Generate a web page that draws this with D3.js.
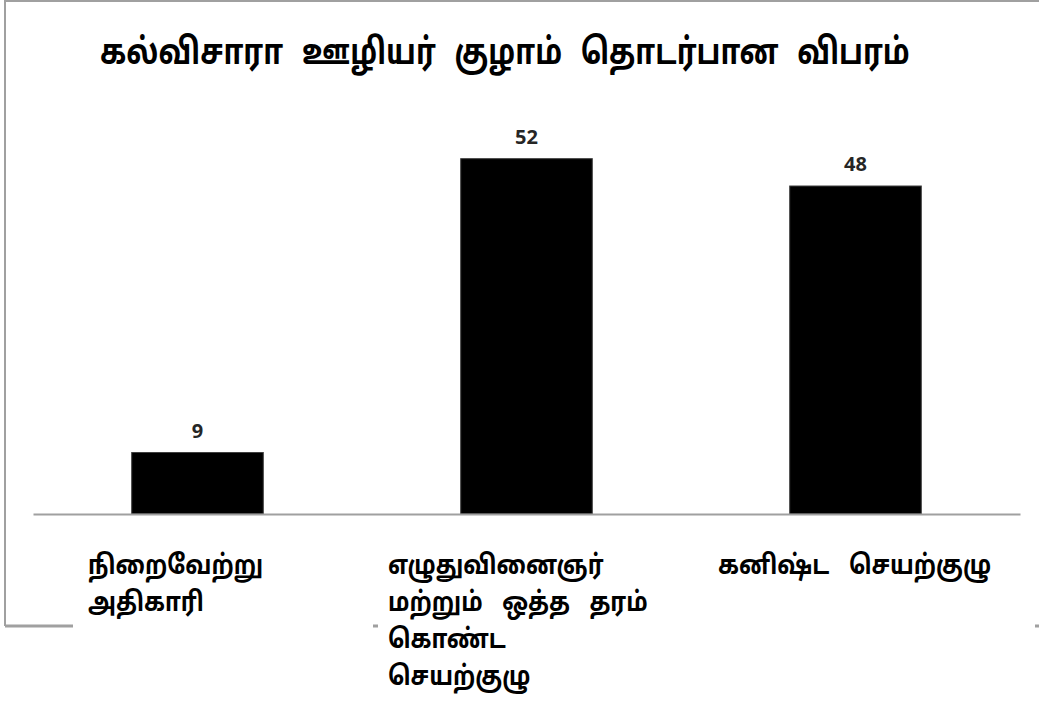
<!DOCTYPE html>
<meta charset="utf-8">
<script src="https://d3js.org/d3.v7.min.js"></script>
<style>
  body { margin: 0; background: #fff; }
</style>
<div id="chart"></div>
<script>
  // chart data
  var titleText = "கல்விசாரா ஊழியர் குழாம் தொடர்பான விபரம்";
  var categories = ["நிறைவேற்று அதிகாரி", "எழுதுவினைஞர் மற்றும் ஒத்த தரம் கொண்ட செயற்குழு", "கனிஷ்ட செயற்குழு"];
  var values = [9, 52, 48];
  // category label lines (as wrapped in the original)
  var labelLines = [
    ["நிறைவேற்று", "அதிகாரி"],
    ["எழுதுவினைஞர்", "மற்றும் ஒத்த தரம்", "கொண்ட", "செயற்குழு"],
    ["கனிஷ்ட செயற்குழு"]
  ];

  var W = 1039, H = 715;
  var tamilFont = "'Noto Sans Tamil', Latha, 'Noto Sans', sans-serif";

  var svg = d3.select("#chart").append("svg")
    .attr("width", W)
    .attr("height", H);

  // outer chart frame (left, top, bottom)
  svg.append("path")
    .attr("d", "M5,626 L5,1 L1045,1")
    .attr("fill", "none")
    .attr("stroke", "#a0a0a0")
    .attr("stroke-width", 2);
  svg.append("line")
    .attr("x1", 5).attr("x2", 1045)
    .attr("y1", 626).attr("y2", 626)
    .attr("stroke", "#a0a0a0")
    .attr("stroke-width", 3);

  var x = d3.scaleBand()
    .domain(categories)
    .range([33, 1020])
    .paddingInner(0.6)
    .paddingOuter(0.3);

  var y = d3.scaleLinear()
    .domain([0, 60])
    .range([514, 104]);

  // title, squeezed horizontally to look like the condensed original font
  var title = svg.append("text")
    .style("font-family", tamilFont)
    .style("font-weight", "bold")
    .style("font-size", "36px")
    .style("word-spacing", "14px")
    .text(titleText);
  var tw = title.node().getComputedTextLength();
  var sx = Math.min(1, 810 / tw);
  title.attr("transform", "translate(100,64) scale(" + sx + ",1)");

  // bars
  svg.selectAll("rect.bar")
    .data(values)
    .enter()
    .append("rect")
      .attr("class", "bar")
      .attr("x", function(d, i) { return x(categories[i]); })
      .attr("y", function(d) { return y(d); })
      .attr("width", x.bandwidth())
      .attr("height", function(d) { return y(0) - y(d); })
      .attr("fill", "#000")
      .attr("stroke", "#404040")
      .attr("stroke-width", 1);

  // value labels
  svg.selectAll("text.val")
    .data(values)
    .enter()
    .append("text")
      .attr("class", "val")
      .attr("x", function(d, i) { return x(categories[i]) + x.bandwidth() / 2; })
      .attr("y", function(d) { return y(d) - 15; })
      .attr("text-anchor", "middle")
      .style("font-family", "'Open Sans', 'Liberation Sans', sans-serif")
      .style("font-weight", "bold")
      .style("font-size", "20px")
      .style("fill", "#262626")
      .text(function(d) { return d; });

  // category axis line
  var axis = svg.append("g")
    .attr("transform", "translate(0," + y(0) + ")")
    .call(d3.axisBottom(x).tickSize(0).tickFormat(""));
  axis.select(".domain")
    .attr("stroke", "#a0a0a0")
    .attr("stroke-width", 2);

  // category labels with white boxes (they hide the frame below)
  var labelX = [88, 388, 718];
  var boxX = [-15, -10, -12];
  var boxW = [300, 340, 329];
  var lab = svg.selectAll("g.lab")
    .data(labelLines)
    .enter()
    .append("g")
      .attr("class", "lab")
      .attr("transform", function(d, i) { return "translate(" + labelX[i] + ",0)"; });

  lab.append("rect")
    .attr("x", function(d, i) { return boxX[i]; })
    .attr("y", 540)
    .attr("width", function(d, i) { return boxW[i]; })
    .attr("height", function(d) { return Math.max(d.length * 37 + 10, 100); })
    .attr("fill", "#fff");

  lab.selectAll("text")
    .data(function(d) { return d; })
    .enter()
    .append("text")
      .attr("transform", function(d, j) { return "translate(0," + (574 + j * 37) + ") scale(0.85,1)"; })
      .style("font-family", tamilFont)
      .style("font-weight", "bold")
      .style("font-size", "27px")
      .style("word-spacing", "16px")
      .text(function(d) { return d; });
</script>
